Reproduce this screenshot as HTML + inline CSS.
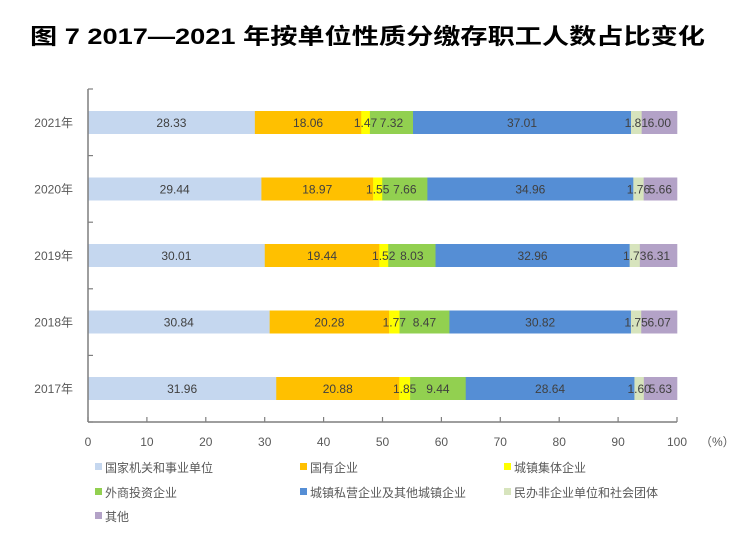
<!DOCTYPE html>
<html><head><meta charset="utf-8"><style>
body{margin:0;background:#fff;}
svg{display:block;font-family:"Liberation Sans","Noto Sans CJK SC",sans-serif;}
</style></head><body>
<svg width="740" height="543" xmlns="http://www.w3.org/2000/svg">
<text x="30" y="44" font-size="22" font-weight="bold" fill="#000" textLength="675" lengthAdjust="spacingAndGlyphs" font-family="'Liberation Sans','Noto Sans CJK SC',sans-serif">图 7 2017—2021 年按单位性质分缴存职工人数占比变化</text>
<g id="bars"></g>
<line x1="88" y1="89" x2="88" y2="422" stroke="#7f7f7f" stroke-width="1.5"/>
<line x1="88" y1="422" x2="677" y2="422" stroke="#7f7f7f" stroke-width="1.5"/>
<g id="ticks" stroke="#7f7f7f" stroke-width="1.2"></g>
<g id="labels" font-size="12" fill="#595959"></g>
<text x="700" y="446" font-size="12" fill="#595959">（%）</text>
<g font-size="12" fill="#595959">
<rect x="95" y="463" width="7" height="7" fill="#c5d7ef"/><text x="105" y="472">国家机关和事业单位</text>
<rect x="300" y="463" width="7" height="7" fill="#ffc000"/><text x="310" y="472">国有企业</text>
<rect x="504" y="463" width="7" height="7" fill="#ffff00"/><text x="514" y="472">城镇集体企业</text>
<rect x="95" y="488" width="7" height="7" fill="#92d050"/><text x="105" y="497">外商投资企业</text>
<rect x="300" y="488" width="7" height="7" fill="#558ed5"/><text x="310" y="497">城镇私营企业及其他城镇企业</text>
<rect x="504" y="488" width="7" height="7" fill="#d7e4bd"/><text x="514" y="497">民办非企业单位和社会团体</text>
<rect x="95" y="512" width="7" height="7" fill="#b3a2c7"/><text x="105" y="521">其他</text>
</g>
</svg>
<script>
var ns="http://www.w3.org/2000/svg";
var cols=["#c5d7ef","#ffc000","#ffff00","#92d050","#558ed5","#d7e4bd","#b3a2c7"];
var data=[["2021年",[28.33,18.06,1.47,7.32,37.01,1.81,6.00]],["2020年",[29.44,18.97,1.55,7.66,34.96,1.76,5.66]],["2019年",[30.01,19.44,1.52,8.03,32.96,1.73,6.31]],["2018年",[30.84,20.28,1.77,8.47,30.82,1.75,6.07]],["2017年",[31.96,20.88,1.85,9.44,28.64,1.60,5.63]]];
var g=document.getElementById("bars"),x0=88,sc=5.89;
function el(t,a,p,txt){var e=document.createElementNS(ns,t);for(var k in a)e.setAttribute(k,a[k]);if(txt!=null)e.textContent=txt;p.appendChild(e);return e;}
data.forEach(function(d,i){var cy=122.5+i*66.5,s=0;var tot=d[1].reduce(function(a,b){return a+b},0);
el("text",{x:73,y:cy+4.5,"text-anchor":"end","font-size":12,fill:"#595959"},g,d[0]);
d[1].forEach(function(v,j){var w=v/tot*100*sc;var x=x0+s/tot*100*sc;
el("rect",{x:x,y:cy-11.5,width:w+0.3,height:23,fill:cols[j]},g);s+=v;});
s=0;d[1].forEach(function(v,j){var w=v/tot*100*sc;var x=x0+s/tot*100*sc;
el("text",{x:x+w/2,y:cy+4.5,"text-anchor":"middle","font-size":12,fill:"#404040"},g,v.toFixed(2));s+=v;});
});
var t=document.getElementById("ticks");
for(var k=0;k<=5;k++){var y=89+k*66.6;el("line",{x1:88,y1:y,x2:93,y2:y},t);}
var l=document.getElementById("labels");
for(var k=0;k<=10;k++){var x=x0+k*10*sc;el("line",{x1:x,y1:417,x2:x,y2:422},t);el("text",{x:x,y:446,"text-anchor":"middle"},l,String(k*10));}
</script>
</body></html>
